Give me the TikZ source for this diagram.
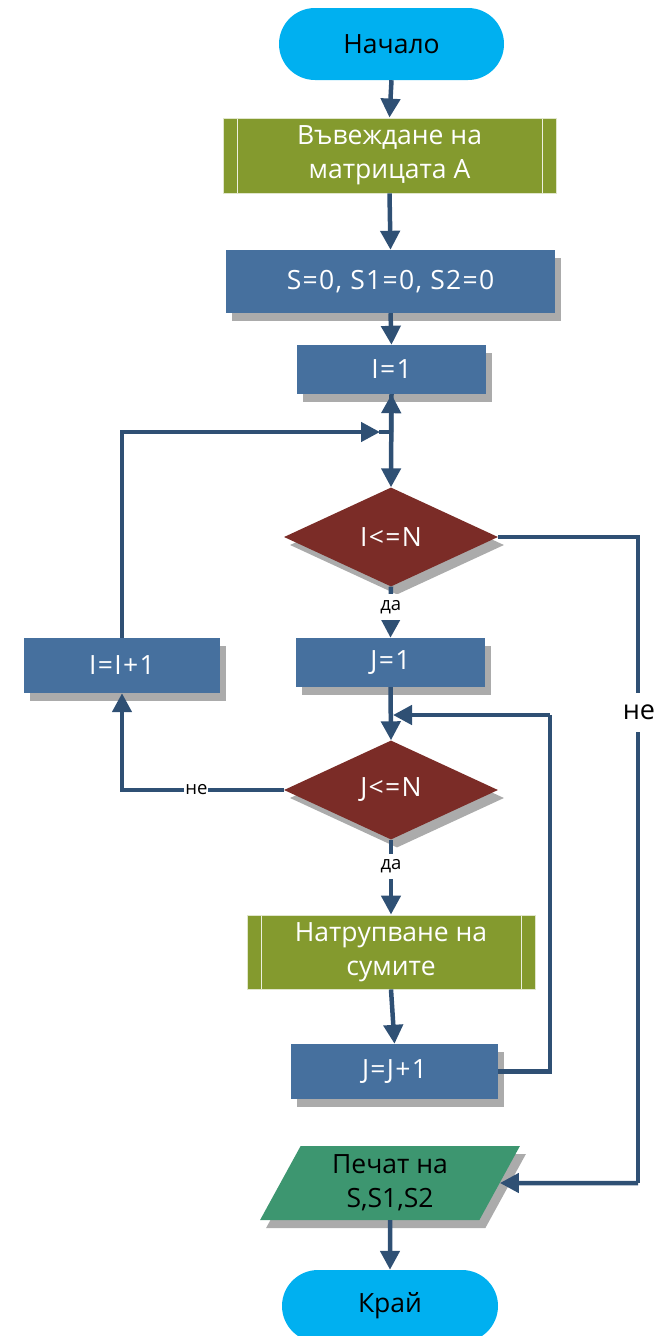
\documentclass[tikz,border=0pt]{standalone}
\usepackage{fontspec}
\setmainfont{Open Sans}
\newfontfamily\formfont[LetterSpace=5]{Open Sans}
\usetikzlibrary{shapes.geometric,arrows.meta,shadows,calc}
\definecolor{cterm}{HTML}{00B0F0}
\definecolor{cproc}{HTML}{46709E}
\definecolor{colive}{HTML}{849A2E}
\definecolor{cdec}{HTML}{7B2C27}
\definecolor{cio}{HTML}{3D9670}
\definecolor{cline}{HTML}{2F5074}
\definecolor{cshadow}{HTML}{ABABAB}
\begin{document}
\begin{tikzpicture}[x=1pt,y=-1pt,
  every node/.style={font=\fontsize{26.5}{34}\selectfont, align=center, inner sep=0pt},
  form/.style={font=\formfont\fontsize{26.5}{34}\selectfont},
  shad/.style={drop shadow={shadow xshift=6pt, shadow yshift=-8pt, fill=cshadow, opacity=1}},
  term/.style={rectangle, rounded corners=36pt, fill=cterm, text=black, minimum height=72pt},
  proc/.style={rectangle, fill=cproc, text=white, shad},
  predef/.style={rectangle, fill=colive, draw=white!75!colive, line width=0.8pt, text=white,
    path picture={\draw[white!85!colive, line width=1pt]
      ([xshift=14pt]path picture bounding box.north west) -- ([xshift=14pt]path picture bounding box.south west)
      ([xshift=-14pt]path picture bounding box.north east) -- ([xshift=-14pt]path picture bounding box.south east);}},
  dec/.style={diamond, aspect=2.16, fill=cdec, text=white, minimum width=214pt, minimum height=99pt, shad},
  io/.style={trapezium, trapezium left angle=65, trapezium right angle=115, trapezium stretches=true,
    fill=cio, text=black, minimum width=260pt, minimum height=74pt, shad},
  conn/.style={draw=cline, line width=4.5pt},
  arr/.style={conn, -{Triangle[length=19pt,width=19pt]}},
  lbl/.style={font=\fontsize{18.5}{20}\selectfont, fill=white, text=black}
]
\useasboundingbox (0,0) rectangle (664,1336);

% nodes
\node[term, minimum width=225pt] (start) at (391.5,44) {Начало};
\node[predef, minimum width=333pt, minimum height=75pt] (input) at (389.5,155.5) {Въвеждане на\\матрицата А};
\node[proc, form, minimum width=329pt, minimum height=63pt] (init) at (390.5,281.5) {S=0, S1=0, S2=0};
\node[proc, form, minimum width=189pt, minimum height=49pt] (ione) at (391.5,369.5) {I=1};
\node[dec, form] (condi) at (391,537) {I<=N};
\node[proc, form, minimum width=189pt, minimum height=49pt] (jone) at (390.5,662.5) {J=1};
\node[proc, form, minimum width=196pt, minimum height=55pt] (inci) at (122,665.5) {I=I+1};
\node[dec, form] (condj) at (391,790) {J<=N};
\node[predef, minimum width=288pt, minimum height=74pt] (accum) at (391,952) {Натрупване на\\сумите};
\node[proc, form, minimum width=207pt, minimum height=55pt] (incj) at (394.5,1071.5) {J=J+1};
\node[io] (print) at (390,1183) {Печат на\\S,S1,S2};
\node[term, minimum width=216pt] (stop) at (390,1306) {Край};

\coordinate (ji) at (391,432);
\coordinate (jj) at (391,715);
\coordinate (rj) at (550,715);
\coordinate (rr) at (638,1183);

% connectors
\draw[arr] (start.south) -- (input.north);
\draw[arr] (input.south) -- (init.north);
\draw[arr] (init.south) -- (ione.north);
\draw[arr] (ione.south) -- (condi.north);
\draw[arr] (ji) -- (ione.south);
\draw[arr] (inci.north) |- ([xshift=-11pt]ji);
\draw[conn] ([xshift=-12pt]ji) -- (ji);
\draw[arr] (condi.south) -- node[lbl, pos=0.4, inner sep=6pt] {да} (jone.north);
\draw[conn] (condi.east) -| (rr);
\draw[arr] (rr) -- (print.east);
\node[font=\fontsize{27}{30}\selectfont, fill=white, minimum height=39pt, minimum width=36pt] (nebig) at (639,712) {не};
\draw[arr] (jone.south) -- (condj.north);
\draw[conn] (incj.east) -| (rj);
\draw[arr, shorten >=2pt] (rj) -- (jj);
\draw[arr] (condj.west) -| node[lbl, pos=0.27, inner sep=1pt] {не} (inci.south);
\draw[arr] (condj.south) -- node[lbl, pos=0.36, inner sep=6pt] {да} (accum.north);
\draw[arr] (accum.south) -- (incj.north);
\draw[arr] (print.south) -- (stop.north);
\end{tikzpicture}
\end{document}
